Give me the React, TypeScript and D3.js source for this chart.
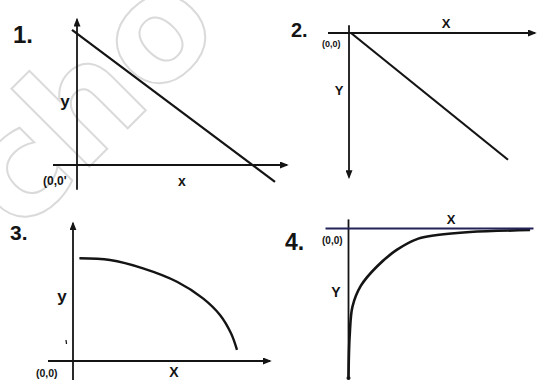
import * as d3 from "d3";

const W = 539;
const H = 380;

// 1. straight line sloping down through the x axis
const line1X = [-0.25, 9.9];
const line1Y = [10.4, -1.3];

// 2. origin at the top left, y grows downward
const line2X = [0.1, 7.95];
const line2Y = [0, 9.75];

// 3. flat start, bending down to the x axis
const curve3X = [0.32, 1.85, 3.5, 5.2, 6.5, 7.35, 7.9, 8.2];
const curve3Y = [7.9, 7.77, 7.13, 6.1, 4.82, 3.54, 2.13, 0.85];

// 4. rises from far below and flattens under the x axis
const curve4X = [0, 0.06, 0.2, 0.62, 1.41, 2.41, 3.49, 4.43, 6.08, 9.08];
const curve4Y = [-11.4, -8.2, -6.0, -4.4, -2.94, -1.65, -0.78, -0.5, -0.27, -0.12];

const panelLabels = ["1.", "2.", "3.", "4."];
const originLabels = ["(0,0'", "(0,0)", "(0,0)", "(0,0)"];
const xNames = ["x", "X", "X", "X"];
const yNames = ["y", "Y", "y", "Y"];

const font = "'Liberation Sans', Arial, sans-serif";
const ink = "#141414";

const pts = (xs: number[], ys: number[]) => xs.map((x, i) => [x, ys[i]] as [number, number]);

export default function App() {
  // one pair of scales per panel, each is 20px per x unit and 13px per y unit
  const p1 = {
    x: d3.scaleLinear().domain([0, 10]).range([77, 277]),
    y: d3.scaleLinear().domain([0, 10]).range([165, 35]),
  };
  const p2 = {
    x: d3.scaleLinear().domain([0, 10]).range([349, 549]),
    y: d3.scaleLinear().domain([0, 10]).range([33, 163]),
  };
  const p3 = {
    x: d3.scaleLinear().domain([0, 10]).range([73, 273]),
    y: d3.scaleLinear().domain([0, 10]).range([361, 231]),
  };
  const p4 = {
    x: d3.scaleLinear().domain([0, 10]).range([348.5, 548.5]),
    y: d3.scaleLinear().domain([-10, 0]).range([358.5, 228.5]),
  };

  const mk = (p: any, curved: boolean) =>
    d3
      .line<[number, number]>()
      .x((d) => p.x(d[0]))
      .y((d) => p.y(d[1]))
      .curve(curved ? d3.curveCatmullRom.alpha(0.5) : d3.curveLinear);

  const axis = (
    x1: number,
    y1: number,
    x2: number,
    y2: number,
    arrow: boolean,
    color = ink
  ) => (
    <line
      x1={x1}
      y1={y1}
      x2={x2}
      y2={y2}
      stroke={color}
      strokeWidth={1.8}
      markerEnd={arrow ? "url(#arrow)" : undefined}
    />
  );

  return (
    <svg width={W} height={H} style={{ position: "absolute", left: 0, top: 0, background: "#fff" }}>
      <defs>
        <marker
          id="arrow"
          viewBox="0 0 10 8"
          refX={8}
          refY={4}
          markerWidth={9}
          markerHeight={7}
          markerUnits="userSpaceOnUse"
          orient="auto"
        >
          <path d="M0,0 L10,4 L0,8 z" fill={ink} />
        </marker>
      </defs>

      {/* watermark, behind the drawing */}
      <text
        transform="translate(20,236) rotate(-45)"
        fontFamily="'DejaVu Sans', sans-serif"
        fontWeight="bold"
        fontSize={145}
        fill="#fff"
        stroke="#dadada"
        strokeWidth={2}
      >
        cho
      </text>

      {/* panel 1 */}
      {axis(p1.x(-1.2), p1.y(0), p1.x(10.5), p1.y(0), true)}
      {axis(p1.x(0), p1.y(-1.9), p1.x(0), p1.y(11.2), true)}
      <path d={mk(p1, false)(pts(line1X, line1Y)) || ""} fill="none" stroke={ink} strokeWidth={2.2} />

      {/* panel 2 */}
      {axis(p2.x(-1.05), p2.y(0), p2.x(9.3), p2.y(0), true)}
      {axis(p2.x(0), p2.y(-0.6), p2.x(0), p2.y(11.1), true)}
      <path d={mk(p2, false)(pts(line2X, line2Y)) || ""} fill="none" stroke={ink} strokeWidth={2.2} />

      {/* panel 3 */}
      {axis(p3.x(-1.25), p3.y(0), p3.x(9.85), p3.y(0), true)}
      {axis(p3.x(0), p3.y(-1.5), p3.x(0), p3.y(10.6), true)}
      <path d={mk(p3, true)(pts(curve3X, curve3Y)) || ""} fill="none" stroke={ink} strokeWidth={2.4} />
      <line x1={66} y1={340} x2={66.5} y2={344} stroke={ink} strokeWidth={1.2} />

      {/* panel 4 */}
      {axis(p4.x(0), p4.y(0.7), p4.x(0), p4.y(-11.6), false)}
      <circle cx={p4.x(0)} cy={p4.y(-11.5)} r={2} fill={ink} />
      <path d={mk(p4, true)(pts(curve4X, curve4Y)) || ""} fill="none" stroke={ink} strokeWidth={2.6} />
      {axis(p4.x(-1.15), p4.y(0), p4.x(9.25), p4.y(0), false, "#23235a")}

      {/* text */}
      <g fontFamily={font} fill={ink} fontWeight="bold">
        <text x={13} y={43} fontSize={24}>{panelLabels[0]}</text>
        <text x={291} y={37} fontSize={20}>{panelLabels[1]}</text>
        <text x={10} y={240} fontSize={21}>{panelLabels[2]}</text>
        <text x={285} y={250} fontSize={23}>{panelLabels[3]}</text>

        <text x={43} y={185} fontSize={12}>{originLabels[0]}</text>
        <text x={322} y={47} fontSize={9}>{originLabels[1]}</text>
        <text x={36} y={377} fontSize={10.5}>{originLabels[2]}</text>
        <text x={322} y={244} fontSize={10}>{originLabels[3]}</text>

        <text x={182} y={186} fontSize={14} textAnchor="middle">{xNames[0]}</text>
        <text x={446} y={28} fontSize={13} textAnchor="middle">{xNames[1]}</text>
        <text x={174} y={377} fontSize={14} textAnchor="middle">{xNames[2]}</text>
        <text x={451} y={224} fontSize={13} textAnchor="middle">{xNames[3]}</text>

        <text x={65} y={107} fontSize={17} textAnchor="middle">{yNames[0]}</text>
        <text x={339} y={95} fontSize={13} textAnchor="middle">{yNames[1]}</text>
        <text x={62} y={302} fontSize={17} textAnchor="middle">{yNames[2]}</text>
        <text x={336} y={297} fontSize={14} textAnchor="middle">{yNames[3]}</text>
      </g>
    </svg>
  );
}
